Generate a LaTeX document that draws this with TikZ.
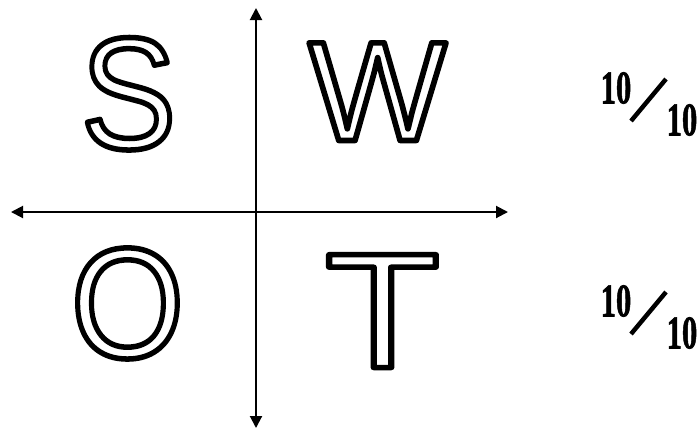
\documentclass[tikz,border=0pt]{standalone}
\usepackage{fontspec}
\setmainfont{Liberation Sans}
\newfontfamily\scorefont[BoldFeatures={FakeBold=1.5}]{Liberation Serif}
\usepackage{tikz}
\usetikzlibrary{arrows.meta, positioning}

% lettre en contour (mode de rendu 1 = stroke)
\newcommand{\outlined}[2]{\scalebox{#1}[1]{\special{pdf:literal direct 1 Tr 5.5 w 1 j}#2\special{pdf:literal direct 0 Tr}}}

\begin{document}
\begin{tikzpicture}[
    x=1pt, y=-1pt,
    letter/.style={inner sep=0pt, anchor=base},
    axis/.style={{Triangle[length=12pt,width=12pt]}-{Triangle[length=12pt,width=12pt]}, line width=2pt},
    score/.style={inner sep=0pt, font=\scorefont\bfseries\fontsize{47}{47}\selectfont},
    slash/.style={line width=4.5pt},
]
\useasboundingbox (0,0) rectangle (700,432);

% --- Axes ---
\coordinate (top) at (256,8);
\coordinate (bottom) at (256,428);
\coordinate (left) at (11,212);
\coordinate (right) at (508,212);
\draw[axis] (top) -- (bottom);
\draw[axis] (left) -- (right);

% --- Lettres en contour ---
\node[letter, font=\fontsize{159}{159}\selectfont] (S) at (128.5,148.5) {\outlined{0.90}{S}};
\node[letter, font=\fontsize{142}{142}\selectfont] (W) at (377.5,140.5) {\outlined{1.03}{W}};
\node[letter, font=\fontsize{157}{157}\selectfont] (O) at (127.5,357.5) {\outlined{0.93}{O}};
\node[letter, font=\fontsize{164}{164}\selectfont] (T) at (382.5,367.5) {\outlined{1.15}{T}};

% --- Notes ---
\foreach \dy/\nm in {0/a, 213/b} {
  \node[score] (num\nm) at (616,88+\dy) {\scalebox{0.65}[1]{10}};
  \node[score] (den\nm) at (682,120+\dy) {\scalebox{0.65}[1]{10}};
  \coordinate (sl\nm) at (631,121+\dy);
  \coordinate (su\nm) at (666,79+\dy);
  \draw[slash] (sl\nm) -- (su\nm);
}

\end{tikzpicture}
\end{document}
